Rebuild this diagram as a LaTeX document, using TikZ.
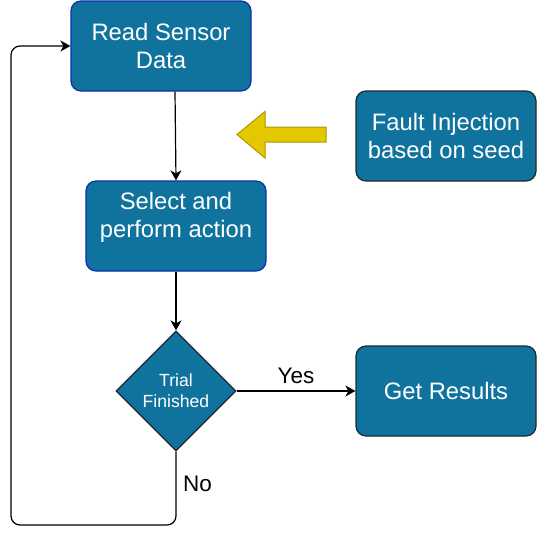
\documentclass[tikz,border=0pt]{standalone}
\usepackage{fontspec}
\setmainfont{Liberation Sans}
\usetikzlibrary{shapes.geometric,arrows.meta}
\definecolor{boxfill}{HTML}{10739E}
\definecolor{blueline}{HTML}{0B2FB0}
\definecolor{darkline}{HTML}{1B2A33}
\definecolor{yfill}{HTML}{E3C800}
\definecolor{yline}{HTML}{B09500}
\tikzset{
  procbox/.style={rectangle, rounded corners=10pt, fill=boxfill, line width=1.2pt,
    minimum width=180pt, minimum height=90pt, inner sep=0pt, align=center,
    text=white, font=\fontsize{23.8}{28.5}\selectfont},
  bluebox/.style={procbox, draw=blueline},
  darkbox/.style={procbox, draw=darkline},
  decision/.style={diamond, fill=boxfill, draw=darkline, line width=1.2pt,
    minimum width=120pt, minimum height=120pt, inner sep=0pt, align=center,
    text=white, font=\fontsize{17.6}{21}\selectfont},
  arr/.style={-{Stealth[length=10pt,width=11pt,inset=3pt]}, line width=1.2pt, black},
  lbl/.style={font=\fontsize{22.5}{26}\selectfont, text=black, inner sep=0pt}
}
\begin{document}
\begin{tikzpicture}[x=1pt,y=-1pt]
\useasboundingbox (0,0) rectangle (537,539);
\node[bluebox] (read) at (161,46) {Read Sensor\\Data};
\node[bluebox] (select) at (176,226) {Select and\\perform action\\[-6pt]\mbox{}};
\node[darkbox] (fault) at (446,136) {Fault Injection\\based on seed};
\node[darkbox] (results) at (446,391) {Get Results};
\node[decision] (dec) at (176,391) {Trial\\Finished};
% yellow block arrow
\draw[fill=yfill, draw=yline, line width=1pt, line join=miter]
  (237,134.5) -- (265,111.5) -- (265,127) -- (326,127) -- (326,142) -- (265,142) -- (265,158) -- cycle;
\draw[arr] ([xshift=14pt]read.south) -- (select.north);
\draw[arr] (select.south) -- (dec.north);
\draw[arr] (dec.east) -- (results.west) node[lbl, midway, above=7pt] (yes) {Yes};
\coordinate (lb) at (11,525);
\draw[arr, rounded corners=9pt] (dec.south) |- (lb) |- (read.west);
\node[lbl, anchor=west] (no) at (183,484) {No};
\end{tikzpicture}
\end{document}
